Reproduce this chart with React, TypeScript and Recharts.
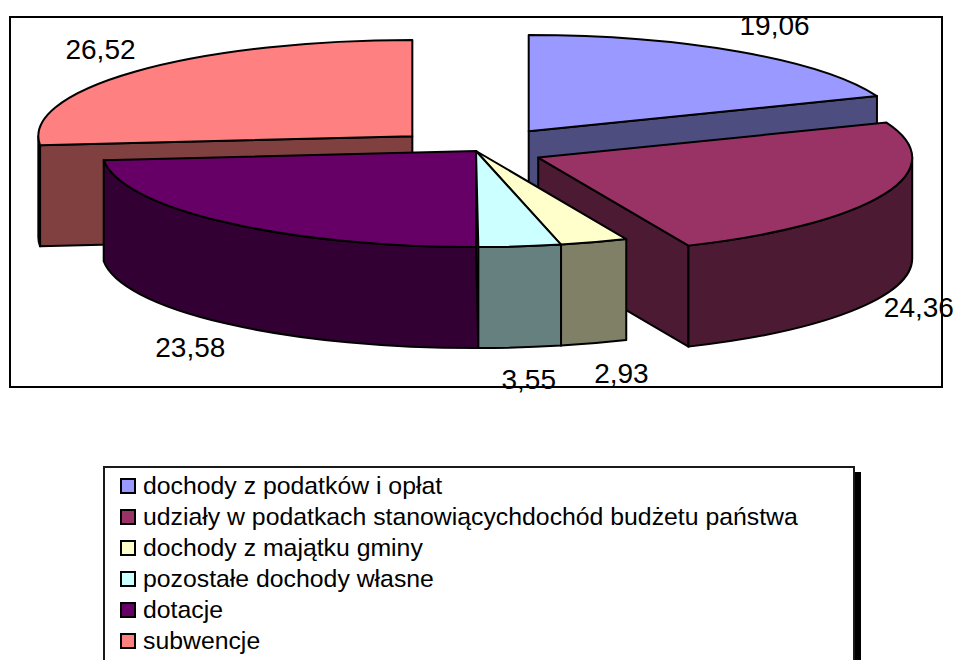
import { PieChart, Pie } from "recharts"

const categories = [
  "dochody z podatków i opłat",
  "udziały w podatkach stanowiącychdochód budżetu państwa",
  "dochody z majątku gminy",
  "pozostałe dochody własne",
  "dotacje",
  "subwencje",
]
const values = [19.06, 24.36, 2.93, 3.55, 23.58, 26.52]

const topColors = ["#9999FF", "#993366", "#FFFFCC", "#CCFFFF", "#660066", "#FF8080"]
const sideColors = ["#4D4D80", "#4D1A33", "#808066", "#668080", "#330033", "#804040"]
// how far each slice is pulled out, as a share of the radius
const explode = [0.25, 0.18, 0, 0, 0, 0.23]

const pieData = categories.map((name, i) => ({ name, value: values[i], idx: i }))

const TILT = 0.257
const DEPTH = 101
const RAD = Math.PI / 180
const FONT = '"Liberation Sans", Arial, sans-serif'

// back slices first, so front slices cover them
const total = values.reduce((a, b) => a + b, 0)
let acc = 0
const mids = values.map((v) => {
  const m = 90 - ((acc + v / 2) / total) * 360
  acc += v
  return m
})
const drawOrder = values
  .map((_, i) => i)
  .sort((a, b) => Math.sin(mids[b] * RAD) - Math.sin(mids[a] * RAD))

function apexOf(cx: number, cy: number, r: number, mid: number, i: number) {
  const e = explode[i] * r
  return [cx + e * Math.cos(mid * RAD), cy - e * TILT * Math.sin(mid * RAD)]
}

function Slice3D(props: any) {
  const { cx, cy, outerRadius: r, startAngle, endAngle, midAngle } = props
  const i = props.payload?.idx ?? props.idx
  const [ax, ay] = apexOf(cx, cy, r, midAngle, i)
  const ry = r * TILT
  const pt = (a: number, dz = 0) =>
    `${ax + r * Math.cos(a * RAD)} ${ay - ry * Math.sin(a * RAD) + dz}`
  const large = startAngle - endAngle > 180 ? 1 : 0
  const line = { stroke: "#000", strokeWidth: 2, strokeLinejoin: "round" as const }

  const faces: any[] = []
  const cutFace = (a: number, key: string) => (
    <path
      key={key}
      d={`M ${ax} ${ay} L ${pt(a)} L ${pt(a, DEPTH)} L ${ax} ${ay + DEPTH} Z`}
      fill={sideColors[i]}
      {...line}
    />
  )
  if (Math.cos(startAngle * RAD) < -1e-6) faces.push(cutFace(startAngle, "s"))
  if (Math.cos(endAngle * RAD) > 1e-6) faces.push(cutFace(endAngle, "e"))

  const a0 = Math.min(startAngle, 0)
  const a1 = Math.max(endAngle, -180)
  if (a0 > a1) {
    faces.push(
      <path
        key="o"
        d={`M ${pt(a0)} A ${r} ${ry} 0 0 1 ${pt(a1)} L ${pt(a1, DEPTH)} A ${r} ${ry} 0 0 0 ${pt(a0, DEPTH)} Z`}
        fill={sideColors[i]}
        {...line}
      />
    )
  }

  faces.push(
    <path
      key="t"
      d={`M ${ax} ${ay} L ${pt(startAngle)} A ${r} ${ry} 0 ${large} 1 ${pt(endAngle)} Z`}
      fill={topColors[i]}
      {...line}
    />
  )
  return <g>{faces}</g>
}

function renderLabel(props: any) {
  const { cx, cy, outerRadius: r, midAngle, value } = props
  const i = props.payload?.idx ?? props.index
  const [ax, ay] = apexOf(cx, cy, r, midAngle, i)
  const c = Math.cos(midAngle * RAD)
  const s = Math.sin(midAngle * RAD)
  const anchor = c > 0.2 ? "start" : c < -0.2 ? "end" : "middle"
  const x = ax + r * c * (anchor === "middle" ? 1.2 : 1.0)
  const y = ay - r * TILT * s - 32 * s + (s < 0 ? DEPTH : 0)
  return (
    <text
      x={x}
      y={y}
      textAnchor={anchor}
      dominantBaseline="central"
      fontSize={28}
      fontFamily={FONT}
      fill="#000"
    >
      {value.toFixed(2).replace(".", ",")}
    </text>
  )
}

export default function App() {
  return (
    <div style={{ position: "absolute", left: 0, top: 0, width: 960, height: 660, background: "#fff", overflow: "hidden" }}>
      <div
        style={{
          position: "absolute",
          left: 9,
          top: 16,
          width: 934,
          height: 372,
          border: "2px solid #000",
          boxSizing: "border-box",
        }}
      />
      <div style={{ position: "absolute", left: 0, top: 0 }}>
        <PieChart width={960} height={660} margin={{ top: 0, right: 0, bottom: 0, left: 0 }}>
          {drawOrder.map((sliceIdx, layer) => (
            <Pie
              key={layer}
              data={pieData}
              dataKey="value"
              nameKey="name"
              cx={476}
              cy={151}
              outerRadius={374}
              startAngle={90}
              endAngle={-270}
              stroke="none"
              isAnimationActive={false}
              shape={(p: any) => ((p.payload?.idx ?? p.idx) === sliceIdx ? <Slice3D {...p} /> : <g />)}
              label={layer === drawOrder.length - 1 ? renderLabel : false}
              labelLine={false}
            />
          ))}
        </PieChart>
      </div>
      <div
        style={{
          position: "absolute",
          left: 103,
          top: 466,
          width: 752,
          height: 230,
          border: "2px solid #1a1a1a",
          boxSizing: "border-box",
          boxShadow: "6px 6px 0 #000",
          background: "#fff",
          paddingTop: 2,
          fontFamily: FONT,
          fontSize: 24.8,
        }}
      >
        {categories.map((name, i) => (
          <div key={name} style={{ height: 31, display: "flex", alignItems: "center" }}>
            <span
              style={{
                width: 16,
                height: 16,
                marginLeft: 15,
                marginRight: 7,
                border: "2px solid #000",
                boxSizing: "border-box",
                background: topColors[i],
                flexShrink: 0,
              }}
            />
            <span style={{ whiteSpace: "nowrap" }}>{name}</span>
          </div>
        ))}
      </div>
    </div>
  )
}
